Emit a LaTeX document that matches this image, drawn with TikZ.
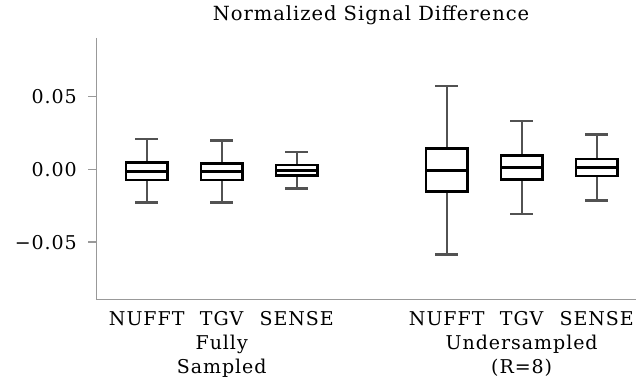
\documentclass[tikz,border=0pt]{standalone}
\usepackage{fontspec}
\setmainfont{DejaVu Serif}
\newfontfamily\plotfont[LetterSpace=5]{DejaVu Serif}
\begin{document}
\begin{tikzpicture}[x=1pt,y=-1pt,
  spine/.style={draw=black!40,line width=1.3pt},
  tickmark/.style={draw=black!40,line width=1.3pt},
  boxline/.style={draw=black,line width=2.6pt,fill=white},
  medline/.style={draw=black,line width=2.6pt},
  whisk/.style={draw=black!68,line width=2.4pt},
  ticklbl/.style={font=\plotfont\fontsize{19}{19}\selectfont,inner sep=0pt},
  catlbl/.style={font=\plotfont\fontsize{19}{19}\selectfont,inner sep=0pt,anchor=base},
  titlelbl/.style={font=\plotfont\fontsize{19.5}{19.5}\selectfont,inner sep=0pt,anchor=base}
]
\useasboundingbox (0,0) rectangle (636,382);
% spines
\coordinate (ytop) at (96.5,38);
\coordinate (origin) at (96.5,299.5);
\coordinate (xend) at (636,299.5);
\draw[spine] (ytop) -- (origin) -- (xend);
% ticks and labels
\foreach \yy/\lab/\nm in {96.7/0.05/ta,169.3/0.00/tb,242/{−0.05}/tc}{
  \coordinate (\nm a) at (96.5,\yy);
  \coordinate (\nm b) at (88,\yy);
  \draw[tickmark] (\nm a) -- (\nm b);
  \node[ticklbl,anchor=base east] (\nm) at (77,\yy+7.3) {\lab};
}
% boxes: center x, whisker top, box top, median, box bottom, whisker bottom
\foreach \cx/\wt/\bt/\md/\bb/\wb/\nm in {
  146.7/139/162.7/171.3/180/202.3/b1,
  221.7/140.7/163.3/171.7/180/202.3/b2,
  296.7/152/165/170.3/175.7/188.3/b3,
  446.7/86.3/148.3/170.3/191.7/254.3/b4,
  521.7/121/155.3/167.7/179.7/214/b5,
  596.7/134.7/159/167.3/176/200.3/b6}{
  \coordinate (\nm wt) at (\cx,\wt);
  \coordinate (\nm wb) at (\cx,\wb);
  \coordinate (\nm bt) at (\cx,\bt);
  \coordinate (\nm bb) at (\cx,\bb);
  \draw[whisk] (\nm wt) -- (\nm bt);
  \draw[whisk] (\nm bb) -- (\nm wb);
  \draw[whisk] ([xshift=-11.5pt]\nm wt) -- ([xshift=11.5pt]\nm wt);
  \draw[whisk] ([xshift=-11.5pt]\nm wb) -- ([xshift=11.5pt]\nm wb);
  \draw[boxline] (\cx-20.8,\bt) rectangle (\cx+20.8,\bb);
  \draw[medline] (\cx-20.8,\md) -- (\cx+20.8,\md);
}
% category labels
\node[catlbl] (l1) at (146.7,325.5) {NUFFT};
\node[catlbl] (l2) at (221.7,325.5) {TGV};
\node[catlbl] (l3) at (296.7,325.5) {SENSE};
\node[catlbl] (l4) at (446.7,325.5) {NUFFT};
\node[catlbl] (l5) at (521.7,325.5) {TGV};
\node[catlbl] (l6) at (596.7,325.5) {SENSE};
\node[catlbl] (g1a) at (221.7,349.5) {Fully};
\node[catlbl] (g1b) at (221.7,373.5) {Sampled};
\node[catlbl] (g2a) at (521.7,349.5) {Undersampled};
\node[catlbl] (g2b) at (521.7,373.5) {(R=8)};
% title
\node[titlelbl] (title) at (371,20.5) {Normalized Signal Difference};
\end{tikzpicture}
\end{document}
